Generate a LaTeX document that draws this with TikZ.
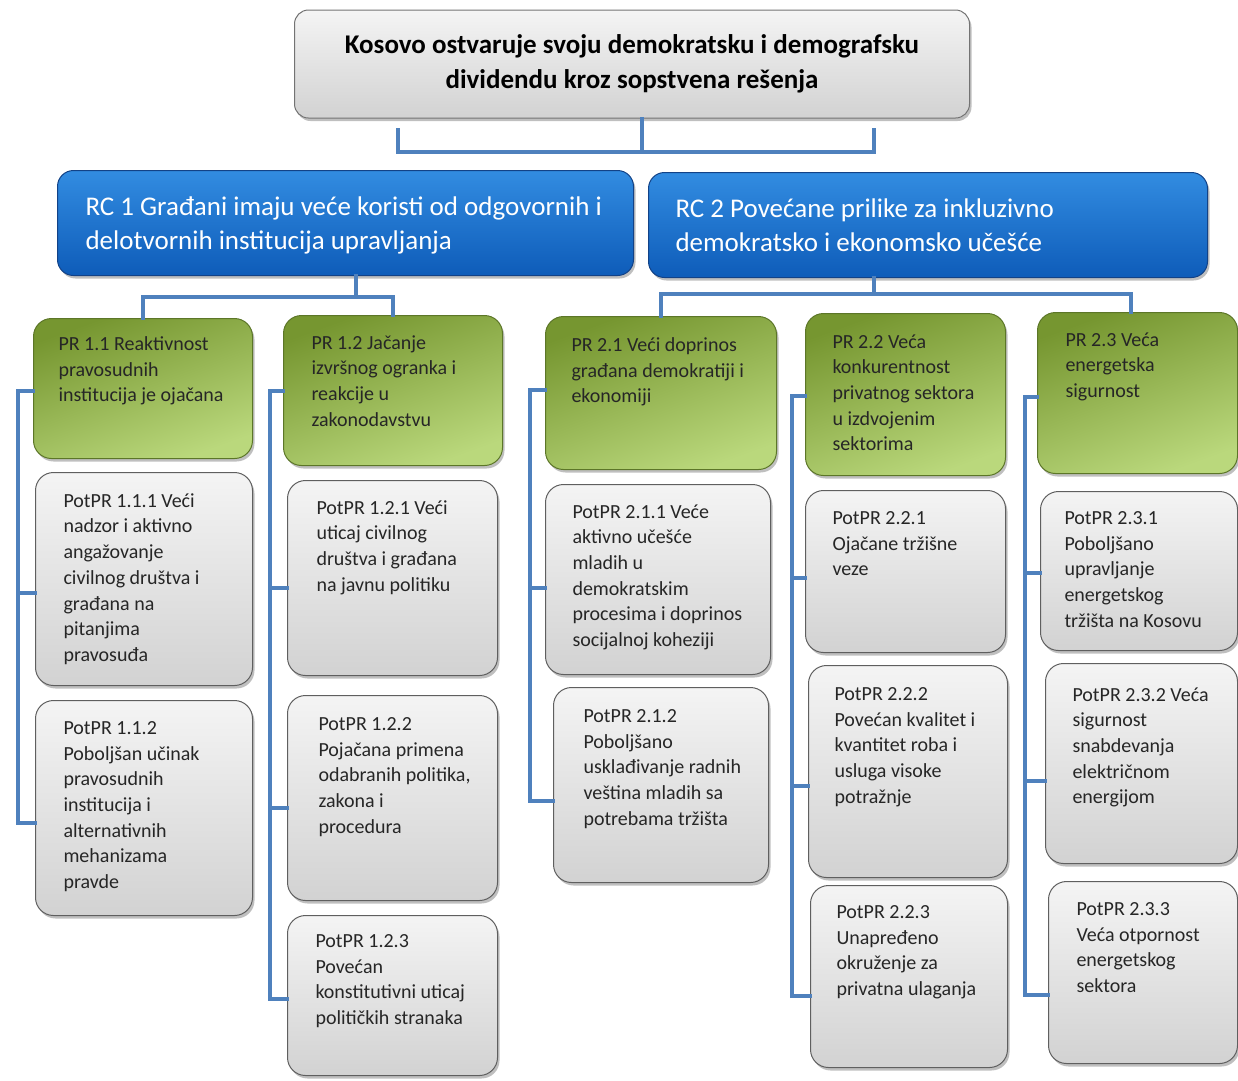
\documentclass[tikz,border=0pt]{standalone}
\usepackage{fontspec}
\setmainfont{Carlito}
\usetikzlibrary{positioning,shadows}

\definecolor{linkblue}{RGB}{79,129,189}
\definecolor{rcTop}{RGB}{50,140,225}
\definecolor{rcBot}{RGB}{14,92,185}
\definecolor{rcLine}{RGB}{18,66,135}
\definecolor{prTop}{RGB}{118,150,48}
\definecolor{prBot}{RGB}{186,216,124}
\definecolor{prLine}{RGB}{92,118,40}
\definecolor{potTop}{RGB}{244,244,244}
\definecolor{potBot}{RGB}{210,210,210}
\definecolor{potLine}{RGB}{95,95,95}

% text block inside a box: width, height, left pad, top pad, text
\newcommand{\boxtext}[5]{%
  \hspace*{#3pt}\parbox[c][#2pt][t]{\dimexpr#1pt-#3pt\relax}{\vspace*{#4pt}\raggedright #5}}

\tikzset{
  box/.style={anchor=north west, inner sep=0pt, line width=1pt, rounded corners=18pt,
    drop shadow={shadow xshift=2pt, shadow yshift=-3pt, opacity=0.5}},
  topbox/.style={box, anchor=center, draw=black!55, top color=potTop, bottom color=potBot,
    minimum width=675pt, minimum height=108pt, align=center, rounded corners=14pt,
    font=\fontsize{27}{35}\selectfont\bfseries},
  rcbox/.style={box, draw=rcLine, top color=rcTop, bottom color=rcBot, text=white,
    rounded corners=16pt, font=\fontsize{27}{34}\selectfont},
  prbox/.style={box, draw=prLine, top color=prTop, bottom color=prBot, shading angle=20,
    text=black!85, font=\fontsize{20}{25.7}\selectfont},
  potbox/.style={box, draw=potLine, top color=potTop, bottom color=potBot,
    text=black!85, font=\fontsize{20}{25.7}\selectfont},
  link/.style={draw=linkblue, line width=4pt, line cap=rect},
}

\begin{document}
\begin{tikzpicture}[x=1pt, y=-1pt]
  \useasboundingbox (0,0) rectangle (1238,1080);

  % top goal
  \node[topbox] (top) at (632,64) {Kosovo ostvaruje svoju demokratsku i demografsku\\ dividendu kroz sopstvena rešenja};

  % results
  \node[rcbox] (rc1) at (57,170) {\boxtext{576}{105}{28}{26}{RC 1 Građani imaju veće koristi od odgovornih i\\ delotvornih institucija upravljanja}};
  \node[rcbox] (rc2) at (648,172) {\boxtext{559}{105}{27}{26}{RC 2 Povećane prilike za inkluzivno\\ demokratsko i ekonomsko učešće}};

  % program results
  \node[prbox] (pr11) at (33,318) {\boxtext{219}{140}{25}{18}{PR 1.1 Reaktivnost\\ pravosudnih\\ institucija je ojačana}};
  \node[prbox] (pr12) at (283,315) {\boxtext{219}{150}{28}{20}{PR 1.2 Jačanje\\ izvršnog ogranka i\\ reakcije u\\ zakonodavstvu}};
  \node[prbox] (pr21) at (545,316) {\boxtext{231}{153}{26}{21}{PR 2.1 Veći doprinos\\ građana demokratiji i\\ ekonomiji}};
  \node[prbox] (pr22) at (805,313) {\boxtext{200}{162}{27}{21}{PR 2.2 Veća\\ konkurentnost\\ privatnog sektora\\ u izdvojenim\\ sektorima}};
  \node[prbox] (pr23) at (1037,312) {\boxtext{200}{161}{28}{20}{PR 2.3 Veća\\ energetska\\ sigurnost}};

  % sub results
  \node[potbox] (p111) at (35,472) {\boxtext{217}{213}{28}{21}{PotPR 1.1.1 Veći\\ nadzor i aktivno\\ angažovanje\\ civilnog društva i\\ građana na\\ pitanjima\\ pravosuđa}};
  \node[potbox] (p112) at (35,700) {\boxtext{217}{215}{28}{21}{PotPR 1.1.2\\ Poboljšan učinak\\ pravosudnih\\ institucija i\\ alternativnih\\ mehanizama\\ pravde}};
  \node[potbox] (p121) at (287,480) {\boxtext{210}{195}{29}{20}{PotPR 1.2.1 Veći\\ uticaj civilnog\\ društva i građana\\ na javnu politiku}};
  \node[potbox] (p122) at (287,695) {\boxtext{210}{205}{31}{22}{PotPR 1.2.2\\ Pojačana primena\\ odabranih politika,\\ zakona i\\ procedura}};
  \node[potbox] (p123) at (287,915) {\boxtext{210}{160}{28}{19}{PotPR 1.2.3\\ Povećan\\ konstitutivni uticaj\\ političkih stranaka}};
  \node[potbox] (p211) at (545,484) {\boxtext{225}{190}{27}{20}{PotPR 2.1.1 Veće\\ aktivno učešće\\ mladih u\\ demokratskim\\ procesima i doprinos\\ socijalnoj koheziji}};
  \node[potbox] (p212) at (553,687) {\boxtext{215}{195}{30}{22}{PotPR 2.1.2\\ Poboljšano\\ usklađivanje radnih\\ veština mladih sa\\ potrebama tržišta}};
  \node[potbox] (p221) at (805,490) {\boxtext{200}{162}{27}{21}{PotPR 2.2.1\\ Ojačane tržišne\\ veze}};
  \node[potbox] (p222) at (808,665) {\boxtext{199}{212}{26}{22}{PotPR 2.2.2\\ Povećan kvalitet i\\ kvantitet roba i\\ usluga visoke\\ potražnje}};
  \node[potbox] (p223) at (810,885) {\boxtext{197}{182}{26}{20}{PotPR 2.2.3\\ Unapređeno\\ okruženje za\\ privatna ulaganja}};
  \node[potbox] (p231) at (1040,491) {\boxtext{197}{159}{24}{20}{PotPR 2.3.1\\ Poboljšano\\ upravljanje\\ energetskog\\ tržišta na Kosovu}};
  \node[potbox] (p232) at (1045,663) {\boxtext{192}{200}{27}{24}{PotPR 2.3.2 Veća\\ sigurnost\\ snabdevanja\\ električnom\\ energijom}};
  \node[potbox] (p233) at (1048,881) {\boxtext{189}{182}{28}{21}{PotPR 2.3.3\\ Veća otpornost\\ energetskog\\ sektora}};

  % bracket under the goal
  \coordinate (brL) at (398,130);
  \coordinate (brR) at (874,130);
  \coordinate (brM) at (642,152);
  \draw[link] (brL) |- (brM) -| (brR);
  \draw[link] (top.south -| brM) -- (brM);

  % results to program results
  \coordinate (j1) at (356,297);
  \coordinate (j2) at (874,294);
  \draw[link] (rc1.south -| j1) -- (j1);
  \draw[link] (pr11.north) |- (j1) -| (pr12.north);
  \draw[link] (rc2.south -| j2) -- (j2);
  \draw[link] (pr21.north) |- (j2) -| ([xshift=-7pt]pr23.north);

  % side bars
  \coordinate (bar11) at (18,0);
  \coordinate (bar12) at (270,0);
  \coordinate (bar21) at (530,0);
  \coordinate (bar22) at (792,0);
  \coordinate (bar23) at (1025,0);
  \foreach \n/\d in {pr11/-2, p111/-14, p112/-15, pr12/0, p121/-10, p122/-10, p123/-3,
      pr21/3, p211/-8, p212/-16, pr22/-1, p221/-6, p222/-14, p223/-19,
      pr23/-4, p231/-2, p232/-17, p233/-22}
    \coordinate (t-\n) at ([yshift=\d pt]\n.west);
  \draw[link] (bar11 |- t-pr11) -- (bar11 |- t-p112);
  \draw[link] (bar12 |- t-pr12) -- (bar12 |- t-p123);
  \draw[link] (bar21 |- t-pr21) -- (bar21 |- t-p212);
  \draw[link] (bar22 |- t-pr22) -- (bar22 |- t-p223);
  \draw[link] (bar23 |- t-pr23) -- (bar23 |- t-p233);
  \foreach \n in {pr11,p111,p112} \draw[link] (bar11 |- t-\n) -- (t-\n);
  \foreach \n in {pr12,p121,p122,p123} \draw[link] (bar12 |- t-\n) -- (t-\n);
  \foreach \n in {pr21,p211,p212} \draw[link] (bar21 |- t-\n) -- (t-\n);
  \foreach \n in {pr22,p221,p222,p223} \draw[link] (bar22 |- t-\n) -- (t-\n);
  \foreach \n in {pr23,p231,p232,p233} \draw[link] (bar23 |- t-\n) -- (t-\n);
\end{tikzpicture}
\end{document}
